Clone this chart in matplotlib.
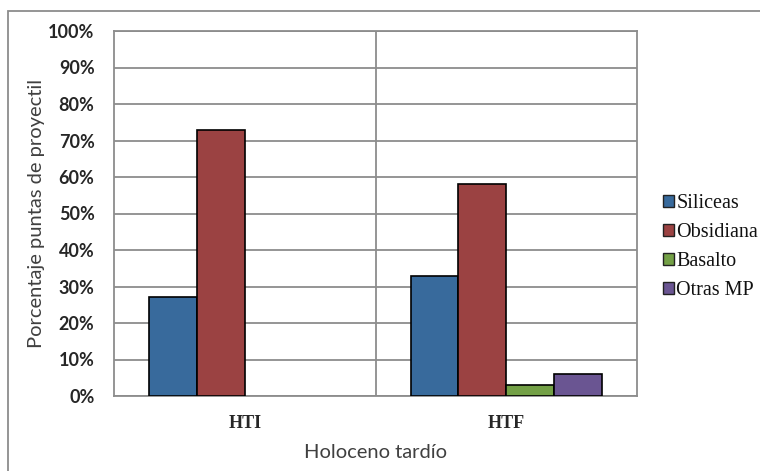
import matplotlib.pyplot as plt
from matplotlib.patches import Rectangle
from matplotlib.font_manager import FontProperties
import numpy as np

# data
periods = ['HTI', 'HTF']
materials = ['Siliceas', 'Obsidiana', 'Basalto', 'Otras MP']
siliceas = [27, 33]
obsidiana = [73, 58]
basalto = [0, 3]
otras = [0, 6]
colors = ['#386a9c', '#9b4242', '#73a046', '#6a5592']

series = [siliceas, obsidiana, basalto, otras]

fig = plt.figure(figsize=(7.6, 4.71), dpi=100)
ax = fig.add_axes([114/760, 1 - 396/471, (637 - 114)/760, (396 - 31)/471])

x = np.arange(len(periods))
w = 0.183
for i in range(len(series)):
    lw = [1.2 if v > 0 else 0 for v in series[i]]  # no outline on empty bars
    ax.bar(x + (i - 1.5) * w, series[i], w, color=colors[i], edgecolor='black',
           linewidth=lw, label=materials[i], zorder=3)

ax.set_xlim(-0.5, 1.5)
ax.set_ylim(0, 100)
ax.set_yticks(range(0, 101, 10))
ax.set_yticklabels([str(v) + '%' for v in range(0, 101, 10)],
                   family='Lato', fontweight='bold', fontsize=13, color='#262626')
ax.set_xticks(x)
ax.set_xticklabels(periods, family='Liberation Serif', fontweight='bold',
                   fontsize=13, color='#262626')
ax.tick_params(length=0)
ax.tick_params(axis='y', pad=14)
ax.tick_params(axis='x', pad=14)

# gridlines and the category separator
ax.grid(axis='y', color='#8c8c8c', linewidth=1.3, zorder=0)
ax.axvline(0.5, color='#8c8c8c', linewidth=1.3, zorder=0)
for s in ax.spines.values():
    s.set_color('#8c8c8c')
    s.set_linewidth(1.3)

ax.set_ylabel('Porcentaje puntas de proyectil', family='Lato', fontsize=14.5,
              color='#404040', labelpad=2)
ax.set_xlabel('Holoceno tardío', family='Lato', fontsize=14.5, color='#404040',
              labelpad=8)

leg_font = FontProperties(family='Liberation Serif', size=14.5)
leg = ax.legend(loc='upper left', bbox_to_anchor=(1.035, 0.575), frameon=False,
                prop=leg_font, handlelength=0.55, handleheight=0.55,
                handletextpad=0.1, labelspacing=0.5, borderaxespad=0)
for t in leg.get_texts():
    t.set_color('#111111')
for h in leg.legend_handles:
    h.set_edgecolor('#222222')
    h.set_linewidth(1.0)

# outer chart border
fig.patches.append(Rectangle((8/760, -0.1), 1.0, 1 - 11/471 + 0.1,
                             transform=fig.transFigure, fill=False,
                             edgecolor='#8c8c8c', linewidth=1.3))

fig.savefig('out.png', dpi=100)
